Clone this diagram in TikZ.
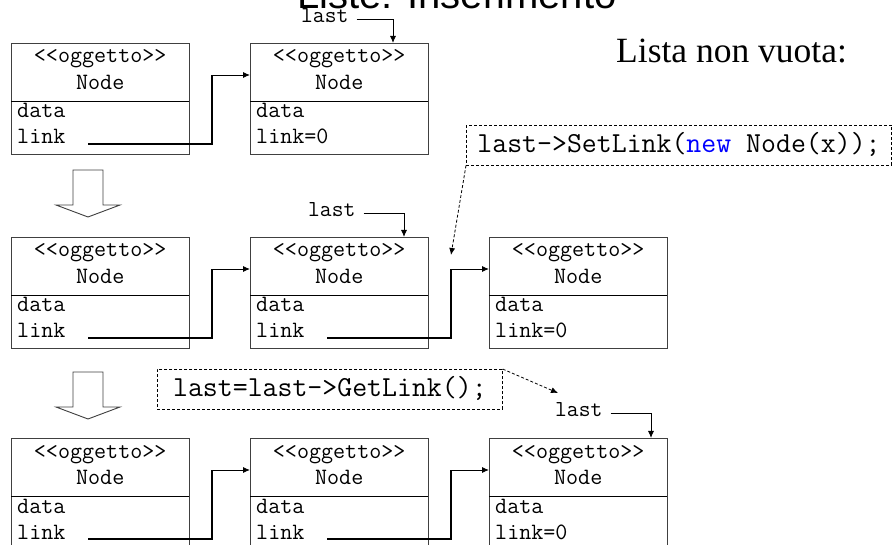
\documentclass[tikz,border=0pt]{standalone}
\usepackage{fontspec}
\setmainfont{Liberation Serif}
\setmonofont{Latin Modern Mono}
\newfontfamily\titlefont{Liberation Sans}
\usetikzlibrary{arrows.meta,calc}

% One list element: name, left x, top y, text of the link field
\newcommand\objbox[4]{%
  \node[objframe, anchor=north west] (#1) at (#2,#3) {};
  \draw[divider] ($(#1.north west)+(0,58.5)$) -- ($(#1.north east)+(0,58.5)$);
  \node[objtxt, anchor=base] (#1-st) at ($(#1.north)+(0,20)$) {<{}<oggetto>{}>};
  \node[objtxt, anchor=base] (#1-nm) at ($(#1.north)+(0,47)$) {Node};
  \node[objtxt, anchor=base west] (#1-dt) at ($(#1.north west)+(6,75)$) {data};
  \node[objtxt, anchor=base west] (#1-lk) at ($(#1.north west)+(6,101)$) {#4};
  \coordinate (#1-in) at ($(#1.north west)+(0,32)$);
  \coordinate (#1-out) at ($(#1.north west)+(77,101)$);
}
% Pointer from the link field of #1 to element #2
\newcommand\linkarrow[2]{%
  \coordinate (#2-turn) at ($(#2-in)+(-38,0)$);
  \draw[linkline] (#1-out) -| (#2-turn);
  \draw[ptr] (#2-turn) -- (#2-in);
}
% Hollow "next step" arrow, top centre at (#1,#2)
\newcommand\steparrow[2]{%
  \draw[blockarrow] (#1-15,#2) -- (#1+15,#2) -- (#1+15,#2+35) -- (#1+32,#2+35)
    -- (#1,#2+47) -- (#1-32,#2+35) -- (#1-15,#2+35) -- cycle;
}

\begin{document}
\begin{tikzpicture}[x=1pt,y=-1pt,
  objframe/.style={draw=black!75, line width=0.9pt, minimum width=177.5pt,
    minimum height=111pt, inner sep=0pt},
  divider/.style={line width=1.6pt},
  objtxt/.style={inner sep=0pt, font=\ttfamily\fontsize{23.4}{28}\selectfont},
  lastlbl/.style={inner sep=0pt, anchor=base west,
    font=\ttfamily\fontsize{22.9}{28}\selectfont},
  ptr/.style={line width=0.9pt, -{Latex[length=7pt,width=6pt]}},
  linkline/.style={line width=1.8pt},
  codebox/.style={draw, dash pattern=on 3pt off 2pt, line width=0.8pt,
    inner xsep=11pt, minimum height=40pt, text height=17pt, text depth=2pt,
    font=\ttfamily\fontsize{29}{34}\selectfont},
  note/.style={dash pattern=on 3pt off 2pt, line width=0.8pt,
    -{Latex[length=7pt,width=6pt]}},
  blockarrow/.style={draw=black!75, line width=0.9pt, fill=white}
]
\useasboundingbox (0,0) rectangle (895,545);

% headings
\node[anchor=base west, inner sep=0pt, font=\titlefont\fontsize{40}{48}\selectfont]
  (title) at (297,9) {Liste: Inserimento};
\node[anchor=base west, inner sep=0pt, font=\fontsize{35.5}{42}\selectfont]
  (subtitle) at (616,63) {Lista non vuota:};

% first state
\objbox{a1}{11}{43}{link}
\objbox{b1}{250}{43}{link=0}
\linkarrow{a1}{b1}
\node[lastlbl] (last1) at (301,23) {last};
\draw[ptr] ($(last1.base east)+(8,-4)$) -| ($(b1.north west)+(143,0)$);

\steparrow{88}{170}

% second state
\objbox{a2}{11}{237}{link}
\objbox{b2}{250}{237}{link}
\objbox{c2}{489}{237}{link=0}
\linkarrow{a2}{b2}
\linkarrow{b2}{c2}
\node[lastlbl] (last2) at (308,217) {last};
\draw[ptr] ($(last2.base east)+(8,-4)$) -| ($(b2.north west)+(154,0)$);

\node[codebox, anchor=west] (code1) at (466,145)
  {last->SetLink(\textcolor{blue}{new} Node(x));};
\coordinate (drop1) at ($(c2-turn)+(0,-14)$);
\draw[note] (code1.south west) -- (drop1);

\steparrow{88}{372}

% third state
\objbox{a3}{11}{438}{link}
\objbox{b3}{250}{438}{link}
\objbox{c3}{489}{438}{link=0}
\linkarrow{a3}{b3}
\linkarrow{b3}{c3}
\node[lastlbl] (last3) at (555,417) {last};
\draw[ptr] ($(last3.base east)+(8,-4)$) -| ($(c3.north west)+(162,0)$);

\node[codebox, anchor=west, minimum width=345pt] (code2) at (157,389.5)
  {last=last->GetLink();};
\coordinate (drop2) at ($(last3.base west)+(3,-24)$);
\draw[note] (code2.north east) -- (drop2);
\end{tikzpicture}
\end{document}
